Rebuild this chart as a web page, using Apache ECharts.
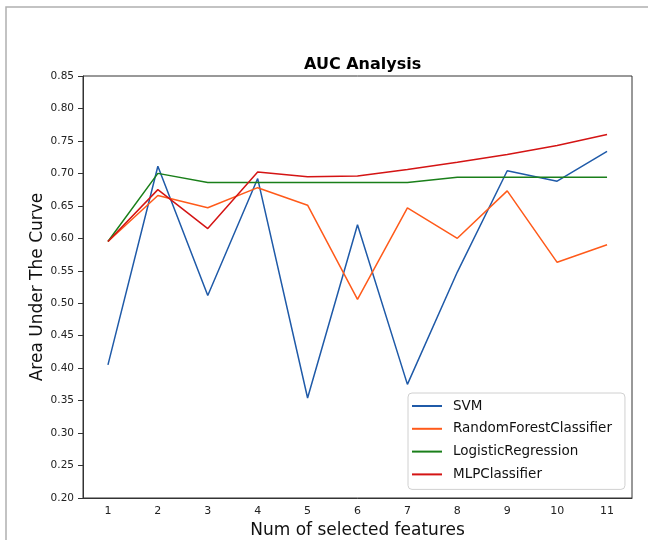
<!DOCTYPE html>
<html>
<head>
<meta charset="utf-8">
<script src="https://cdn.jsdelivr.net/npm/echarts@6/dist/echarts.min.js"></script>
<style>
  html, body { margin: 0; padding: 0; background: #fff; }
  #container { width: 648px; height: 540px; }
</style>
</head>
<body>
<div id="container"></div>
<script>
var dom = document.getElementById("container");
var myChart = echarts.init(dom);

// data
var features = ['1', '2', '3', '4', '5', '6', '7', '8', '9', '10', '11'];
var svm = [0.405, 0.711, 0.512, 0.692, 0.354, 0.621, 0.375, 0.548, 0.704, 0.688, 0.734];
var randomForest = [0.595, 0.666, 0.647, 0.678, 0.651, 0.506, 0.647, 0.600, 0.673, 0.563, 0.590];
var logistic = [0.595, 0.700, 0.686, 0.686, 0.686, 0.686, 0.686, 0.694, 0.694, 0.694, 0.694];
var mlp = [0.595, 0.675, 0.615, 0.702, 0.695, 0.696, 0.706, 0.717, 0.729, 0.743, 0.760];

var names = ['SVM', 'RandomForestClassifier', 'LogisticRegression', 'MLPClassifier'];
var colors = ['#1f5aa8', '#ff5a1a', '#1a7f1a', '#d41414'];
var values = [svm, randomForest, logistic, mlp];

var font = 'DejaVu Sans';

option = {
    animation: false,
    color: colors,
    textStyle: { fontFamily: font },
    title: {
        text: 'AUC Analysis',
        left: 299,
        top: 52,
        textStyle: { fontSize: 16, fontWeight: 'bold', color: '#000', fontFamily: font }
    },
    graphic: [{
        type: 'rect',
        shape: { x: 6, y: 7, width: 700, height: 600 },
        style: { fill: 'none', stroke: '#b0b0b0', lineWidth: 1.5 }
    }],
    grid: {
        left: 83,
        right: 16,
        top: 76,
        bottom: 42,
        outerBoundsMode: 'none',
        show: true,
        borderColor: '#333',
        borderWidth: 1
    },
    legend: {
        orient: 'vertical',
        left: 408,
        top: 393,
        width: 216,
        padding: [6, 13, 8, 4],
        itemGap: 8.8,
        itemWidth: 30,
        itemHeight: 2,
        icon: 'rect',
        backgroundColor: 'rgba(255,255,255,0.85)',
        borderColor: '#d0d0d0',
        borderWidth: 1,
        borderRadius: 4,
        textStyle: { fontSize: 13.5, color: '#111', fontFamily: font, padding: [0, 0, 0, 6] },
        data: names
    },
    xAxis: {
        type: 'category',
        data: features,
        boundaryGap: true,
        name: 'Num of selected features',
        nameLocation: 'middle',
        nameGap: 24,
        nameTextStyle: { fontSize: 17, color: '#111', fontFamily: font },
        axisLine: { lineStyle: { color: '#333', width: 1 } },
        axisTick: { alignWithLabel: true, length: 5, lineStyle: { color: '#333' } },
        axisLabel: { fontSize: 11, color: '#222', margin: 8, fontFamily: font },
        splitLine: { show: false }
    },
    yAxis: {
        type: 'value',
        min: 0.2,
        max: 0.85,
        interval: 0.05,
        name: 'Area Under The Curve',
        nameLocation: 'middle',
        nameGap: 37,
        nameMoveOverlap: false,
        nameTextStyle: { fontSize: 17, color: '#111', fontFamily: font },
        axisLine: { show: true, lineStyle: { color: '#333', width: 1 } },
        axisTick: { show: true, length: 5, lineStyle: { color: '#333' } },
        axisLabel: {
            fontSize: 10.5, color: '#222', margin: 9, fontFamily: font,
            formatter: function (v) { return v.toFixed(2); }
        },
        splitLine: { show: false }
    },
    series: names.map(function (n, i) {
        return {
            name: n,
            type: 'line',
            data: values[i],
            symbol: 'none',
            lineStyle: { width: 1.5, color: colors[i] },
            itemStyle: { color: colors[i] }
        };
    })
};

if (option && typeof option === "object") {
    myChart.setOption(option, true);
}
</script>
</body>
</html>
